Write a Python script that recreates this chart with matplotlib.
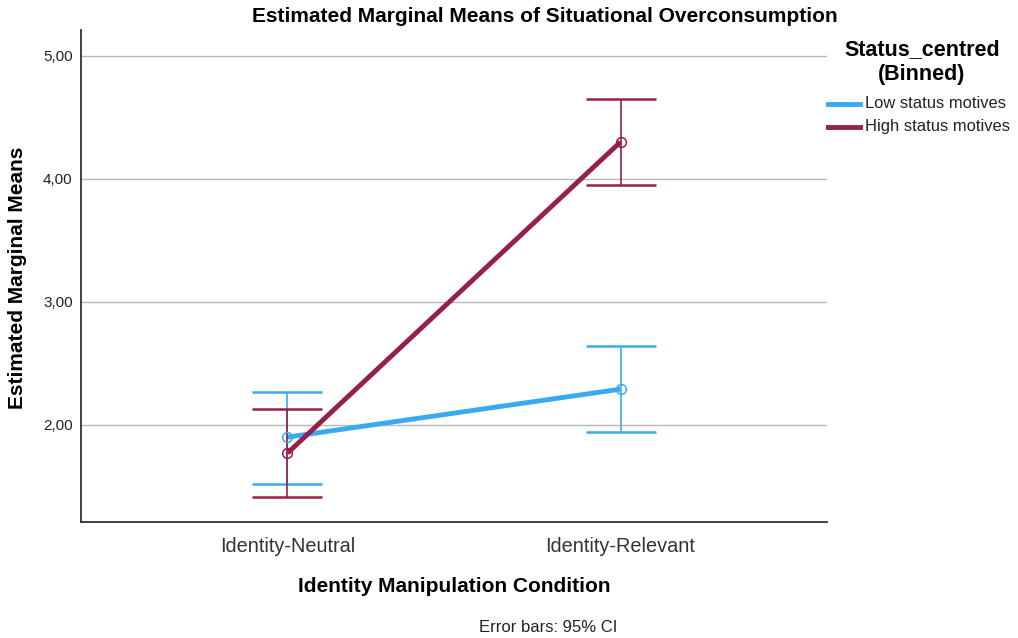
import numpy as np
import matplotlib.pyplot as plt

plt.rcParams['font.family'] = ['Liberation Sans', 'DejaVu Sans']

# estimated marginal means with 95% CI bounds
conditions = ['Identity-Neutral', 'Identity-Relevant']
groups = ['Low status motives', 'High status motives']
low_mean = [1.90, 2.29]
low_ci_lo = [1.52, 1.94]
low_ci_hi = [2.27, 2.64]
high_mean = [1.77, 4.30]
high_ci_lo = [1.41, 3.95]
high_ci_hi = [2.13, 4.65]
yticks = [2.0, 3.0, 4.0, 5.0]
ytick_labels = ['2,00', '3,00', '4,00', '5,00']

colors = ['#3aaaf0', '#951f4f']

fig = plt.figure(figsize=(10.18, 6.38), dpi=100)
ax = fig.add_axes([81 / 1018, 1 - 522 / 638, (827 - 81) / 1018, (522 - 30) / 638])

x = np.arange(len(conditions))
series = [(low_mean, low_ci_lo, low_ci_hi), (high_mean, high_ci_lo, high_ci_hi)]
for (m, lo, hi), c, name in zip(series, colors, groups):
    m = np.array(m)
    err = [m - np.array(lo), np.array(hi) - m]
    ax.plot(x, m, color=c, lw=3.5, label=name, zorder=3, solid_capstyle='butt')
    ax.errorbar(x, m, yerr=err, fmt='none', ecolor=c, elinewidth=1.2,
                capsize=25, capthick=1.8, zorder=4)
    ax.plot(x, m, 'o', ms=7, mfc='none', mec=c, mew=1.1, zorder=5)

ax.set_xlim(-0.62, 1.62)
ax.set_ylim(1.21, 5.21)
ax.set_yticks(yticks)
ax.set_yticklabels(ytick_labels, fontsize=11, color='#222222')
ax.set_xticks(x)
ax.set_xticklabels(conditions, fontsize=14.3, color='#333333')
ax.tick_params(axis='y', length=0, pad=6)
ax.tick_params(axis='x', length=0, pad=11)
ax.yaxis.grid(True, color='#b8b8b8', lw=1)
ax.set_axisbelow(True)
for side in ['top', 'right']:
    ax.spines[side].set_visible(False)
for side in ['left', 'bottom']:
    ax.spines[side].set_color('#333333')
    ax.spines[side].set_linewidth(1.3)

fig.text(545 / 1018, 1 - 17 / 638, 'Estimated Marginal Means of Situational Overconsumption',
         ha='center', va='center', fontsize=15, fontweight='bold')
fig.text(18 / 1018, 1 - 278 / 638, 'Estimated Marginal Means', rotation=90,
         ha='center', va='center', fontsize=15, fontweight='bold')
fig.text(454 / 1018, 1 - 586 / 638, 'Identity Manipulation Condition',
         ha='center', va='center', fontsize=15, fontweight='bold')
fig.text(548 / 1018, 1 - 628 / 638, 'Error bars: 95% CI',
         ha='center', va='center', fontsize=12, color='#222222')

fig.text(922 / 1018, 1 - 62 / 638, 'Status_centred\n(Binned)', ha='center', va='center',
         fontsize=15.5, fontweight='bold', linespacing=1.2)
for i, (c, name) in enumerate(zip(colors, groups)):
    yy = 1 - (104 + 23 * i) / 638
    fig.add_artist(plt.Line2D([828 / 1018, 860 / 1018], [yy, yy], color=c, lw=3.5))
    fig.text(865 / 1018, yy, name, ha='left', va='center', fontsize=11.9, color='#222222')

fig.savefig('out.png', dpi=100)
